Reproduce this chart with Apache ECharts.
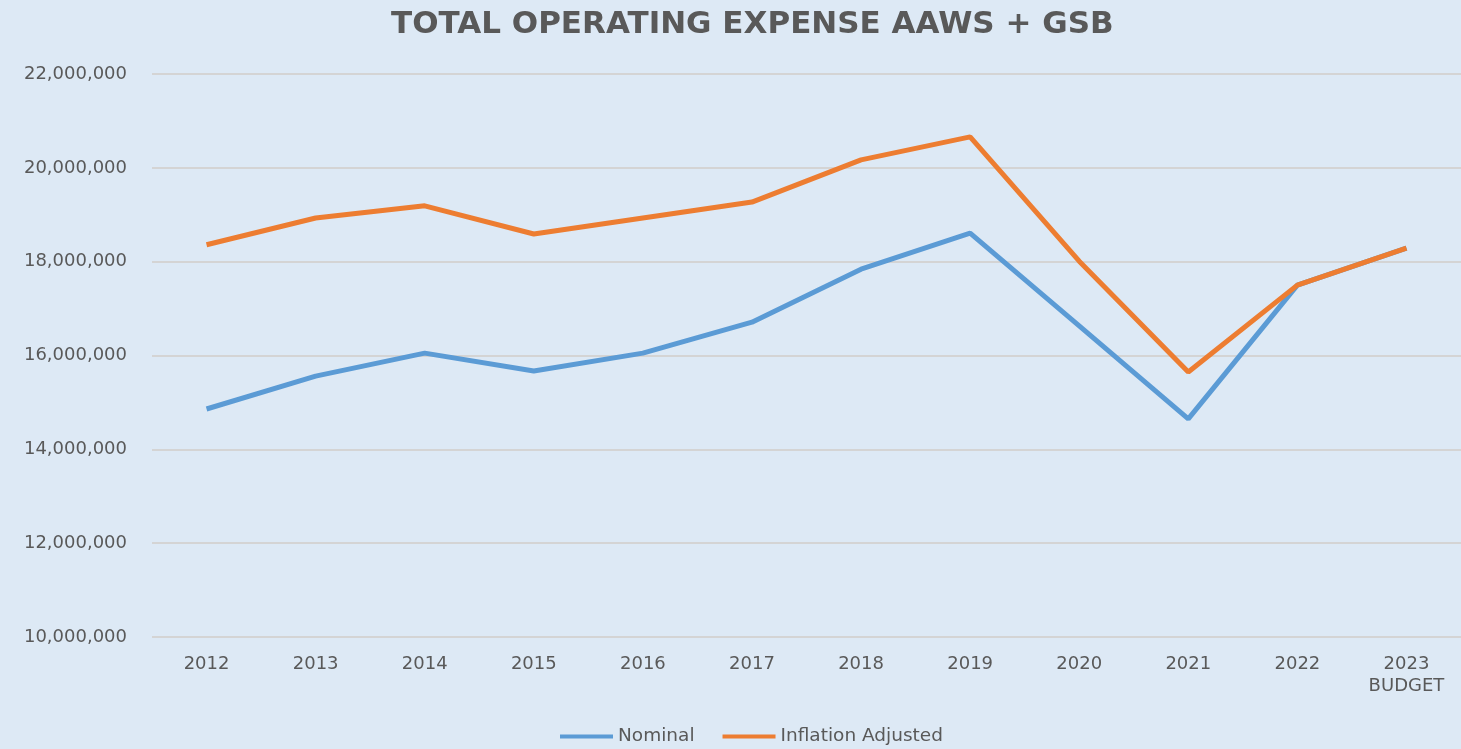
<!DOCTYPE html>
<html>
<head>
<meta charset="utf-8">
<script src="https://cdn.jsdelivr.net/npm/echarts@6/dist/echarts.min.js"></script>
<style>
  html, body { margin: 0; padding: 0; background: #dde9f5; }
  #chart { width: 1461px; height: 749px; }
</style>
</head>
<body>
<div id="chart"></div>
<script>
const years = ['2012', '2013', '2014', '2015', '2016', '2017', '2018', '2019', '2020', '2021', '2022', '2023\nBUDGET'];
const nominal = [14860000, 15560000, 16050000, 15670000, 16050000, 16710000, 17840000, 18610000, 16630000, 14650000, 17500000, 18290000];
const inflationAdjusted = [18360000, 18930000, 19190000, 18590000, 18930000, 19270000, 20170000, 20660000, 18010000, 15650000, 17500000, 18290000];

const chart = echarts.init(document.getElementById('chart'));
const grey = '#595959';
chart.setOption({
  backgroundColor: '#dde9f5',
  textStyle: { fontFamily: 'DejaVu Sans, sans-serif' },
  title: {
    text: 'TOTAL OPERATING EXPENSE AAWS + GSB',
    left: 386,
    top: 4,
    textStyle: { color: grey, fontSize: 31, fontWeight: 'bold' }
  },
  legend: {
    bottom: -2,
    left: 555,
    itemWidth: 53,
    itemHeight: 4,
    itemGap: 28,
    icon: 'rect',
    textStyle: { color: grey, fontSize: 18.5 },
    data: ['Nominal', 'Inflation Adjusted']
  },
  grid: { left: 152, right: -7, top: 74, bottom: 112, containLabel: false },
  xAxis: {
    type: 'category',
    data: years,
    boundaryGap: true,
    axisLine: { show: false },
    axisTick: { show: false },
    axisLabel: { color: grey, fontSize: 18, margin: 16, lineHeight: 22 }
  },
  yAxis: {
    type: 'value',
    min: 10000000,
    max: 22000000,
    interval: 2000000,
    axisLine: { show: false },
    axisTick: { show: false },
    splitLine: { lineStyle: { color: '#d4d4d4', width: 2 } },
    axisLabel: {
      color: grey,
      fontSize: 18,
      margin: 25,
      formatter: v => v.toLocaleString('en-US')
    }
  },
  series: [
    {
      name: 'Nominal',
      type: 'line',
      data: nominal,
      symbol: 'none',
      color: '#5b9bd5',
      lineStyle: { width: 5, color: '#5b9bd5' }
    },
    {
      name: 'Inflation Adjusted',
      type: 'line',
      data: inflationAdjusted,
      symbol: 'none',
      color: '#ed7d31',
      lineStyle: { width: 5, color: '#ed7d31' }
    }
  ]
});
</script>
</body>
</html>
